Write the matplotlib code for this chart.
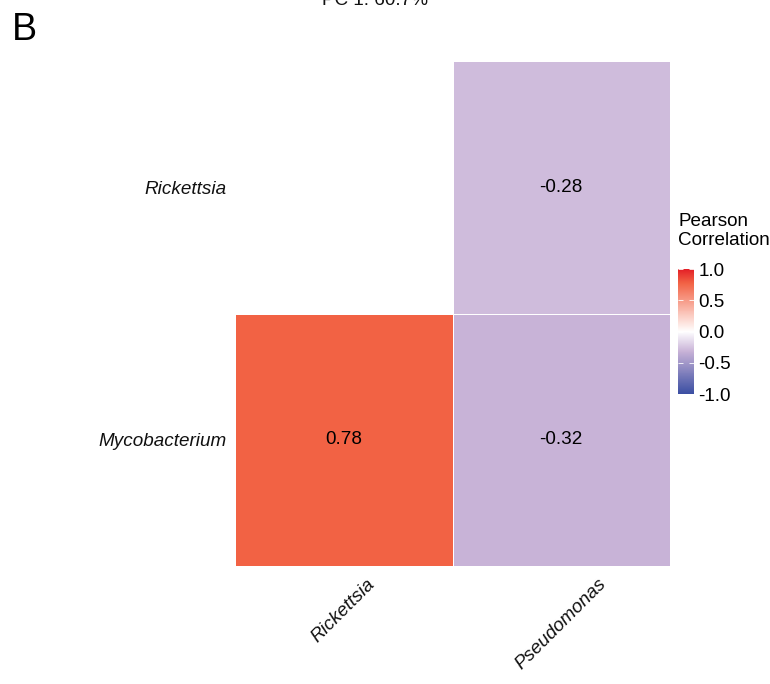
import numpy as np
import matplotlib
matplotlib.use("Agg")
import matplotlib.pyplot as plt
from matplotlib.colors import LinearSegmentedColormap, Normalize

plt.rcParams['font.family'] = ['Liberation Sans', 'DejaVu Sans']

# Correlation matrix (lower-left triangle shown; the blank cell is masked)
row_labels = ["Rickettsia", "Mycobacterium"]
col_labels = ["Rickettsia", "Pseudomonas"]
corr = np.array([[np.nan, -0.28],
                 [0.78, -0.32]])
cbar_ticks = [-1.0, -0.5, 0.0, 0.5, 1.0]
legend_title = "Pearson\nCorrelation"
panel_label = "B"
top_caption = "PC 1: 60.7%"

FS = 13.6

# Diverging blue-white-red scale (perceptual, ggplot gradient2 style)
cmap = LinearSegmentedColormap.from_list(
    "pearson",
    [(0.00, "#3A4EA2"),
     (0.34, "#C8B2D7"),
     (0.50, "#FFFFFF"),
     (0.89, "#F26244"),
     (1.00, "#E41E26")])
norm = Normalize(vmin=-1, vmax=1)

fig = plt.figure(figsize=(7.7, 6.84), dpi=100)
ax = fig.add_axes([235 / 770, 1 - 566 / 684, 435 / 770, 505 / 684])

masked = np.ma.masked_invalid(corr)
# draw with the first row at the top
ax.pcolormesh(np.arange(len(col_labels) + 1), np.arange(len(row_labels) + 1),
              masked, cmap=cmap, norm=norm, edgecolor="white", linewidth=0.4)
ax.set_xlim(0, len(col_labels))
ax.set_ylim(len(row_labels), 0)

for i in range(len(row_labels)):
    for j in range(len(col_labels)):
        v = corr[i, j]
        if not np.isnan(v):
            ax.text(j + 0.5, i + 0.5, f"{v:.2f}", ha="center", va="center",
                    fontsize=FS, color="black")

ax.set_xticks(np.arange(len(col_labels)) + 0.5)
ax.set_yticks(np.arange(len(row_labels)) + 0.5)
ax.set_xticklabels(col_labels, rotation=45, ha="center", va="top",
                   fontsize=FS, style="italic", color="#111111")
ax.set_yticklabels(row_labels, fontsize=FS, style="italic", color="#111111")
ax.tick_params(axis="x", length=0, pad=7)
ax.tick_params(axis="y", length=0, pad=6)
for s in ax.spines.values():
    s.set_visible(False)

# colour bar
cax = fig.add_axes([678 / 770, 1 - 394 / 684, 16 / 770, 125 / 684])
cb = fig.colorbar(matplotlib.cm.ScalarMappable(norm=norm, cmap=cmap), cax=cax,
                  ticks=cbar_ticks)
cb.outline.set_visible(False)
cb.ax.set_yticklabels([f"{t:.1f}" for t in cbar_ticks], fontsize=FS)
cb.ax.tick_params(axis="y", direction="in", length=3.5, width=0.6,
                  color="white", pad=3, left=True, right=True,
                  labelleft=False, labelright=True)
fig.text(678 / 770, 1 - 213 / 684, legend_title, ha="left", va="top",
         fontsize=FS, linespacing=1.12)

fig.text(12 / 770, 1 - 12 / 684, panel_label, ha="left", va="top", fontsize=27)
fig.text(375 / 770, 1 - 5 / 684, top_caption, ha="center", va="baseline",
         fontsize=FS, color="#111111")

fig.savefig("out.png", dpi=100)
